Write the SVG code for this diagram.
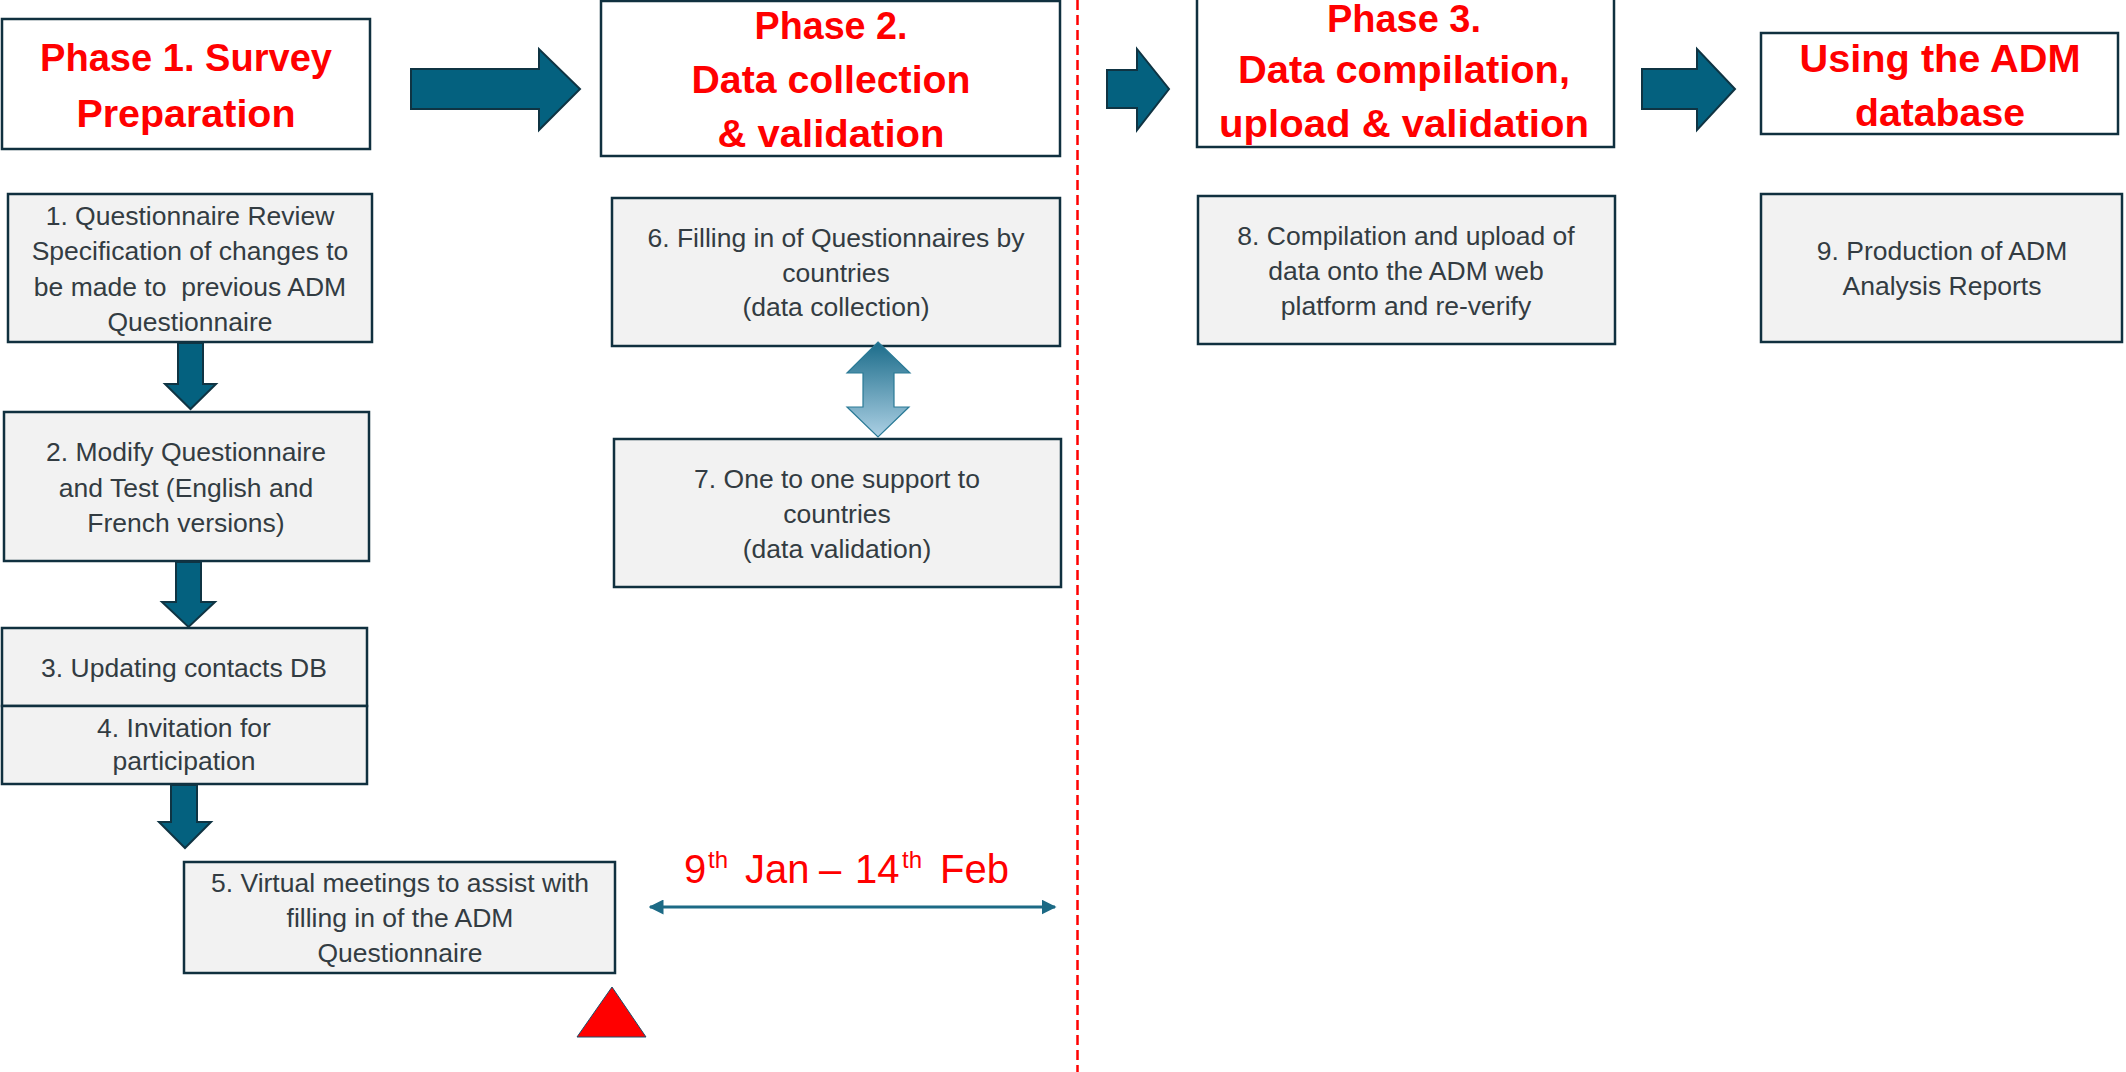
<svg xmlns="http://www.w3.org/2000/svg" width="2126" height="1072" viewBox="0 0 2126 1072">
<style>
.phase{fill:#ffffff;stroke:#10303f;stroke-width:2.5}
.step{fill:#f2f2f2;stroke:#10303f;stroke-width:2.5}
.title{font-family:"Liberation Sans",Arial,sans-serif;font-weight:bold;font-size:39px;fill:#ff0000;text-anchor:middle}
.body{font-family:"Liberation Sans",Arial,sans-serif;font-size:26.5px;fill:#333c42;text-anchor:middle}
.flow{fill:#04617f;stroke:#0f3443;stroke-width:2;stroke-linejoin:miter}
.date{font-family:"Liberation Sans",Arial,sans-serif;fill:#ff0000}
</style>
<defs>
<linearGradient id="grad" x1="0" y1="0" x2="0" y2="1">
<stop offset="0" stop-color="#1b6c8a"/>
<stop offset="1" stop-color="#acd0e4"/>
</linearGradient>
<marker id="ah" viewBox="0 0 10 10" refX="9" refY="5" markerWidth="5" markerHeight="5" orient="auto-start-reverse" markerUnits="strokeWidth">
<path d="M0,0 L10,5 L0,10 Z" fill="#1c6a85"/>
</marker>
</defs>
<rect width="2126" height="1072" fill="#ffffff"/>

<g id="phase1">
<rect class="phase" x="2" y="19" width="368" height="130"/>
<text class="title" x="186" y="71" textLength="292" lengthAdjust="spacingAndGlyphs">Phase 1. Survey</text>
<text class="title" x="186" y="127" textLength="219" lengthAdjust="spacingAndGlyphs">Preparation</text>
</g>
<g id="phase2">
<rect class="phase" x="601" y="1" width="459" height="155"/>
<text class="title" x="831" y="39" textLength="153" lengthAdjust="spacingAndGlyphs">Phase 2.</text>
<text class="title" x="831" y="93" textLength="279" lengthAdjust="spacingAndGlyphs">Data collection</text>
<text class="title" x="831" y="147" textLength="227" lengthAdjust="spacingAndGlyphs">&amp; validation</text>
</g>
<g id="phase3">
<rect class="phase" x="1197" y="-2" width="417" height="149"/>
<text class="title" x="1404" y="32" font-size="33" textLength="154" lengthAdjust="spacingAndGlyphs">Phase 3.</text>
<text class="title" x="1404" y="83" textLength="332" lengthAdjust="spacingAndGlyphs">Data compilation,</text>
<text class="title" x="1404" y="137" textLength="370" lengthAdjust="spacingAndGlyphs">upload &amp; validation</text>
</g>
<g id="using">
<rect class="phase" x="1761" y="33" width="357" height="101"/>
<text class="title" x="1940" y="72" textLength="281" lengthAdjust="spacingAndGlyphs">Using the ADM</text>
<text class="title" x="1940" y="126" textLength="170" lengthAdjust="spacingAndGlyphs">database</text>
</g>

<g id="step1">
<rect class="step" x="8" y="194" width="364" height="148"/>
<text class="body" x="190" y="225">1. Questionnaire Review</text>
<text class="body" x="190" y="260">Specification of changes to</text>
<text class="body" x="190" y="296" xml:space="preserve">be made to  previous ADM</text>
<text class="body" x="190" y="331">Questionnaire</text>
</g>
<g id="step2">
<rect class="step" x="4" y="412" width="365" height="149"/>
<text class="body" x="186" y="461">2. Modify Questionnaire</text>
<text class="body" x="186" y="497">and Test (English and</text>
<text class="body" x="186" y="532">French versions)</text>
</g>
<g id="step3">
<rect class="step" x="2" y="628" width="365" height="78"/>
<text class="body" x="184" y="677">3. Updating contacts DB</text>
</g>
<g id="step4">
<rect class="step" x="2" y="706" width="365" height="78"/>
<text class="body" x="184" y="737">4. Invitation for</text>
<text class="body" x="184" y="770">participation</text>
</g>
<g id="step5">
<rect class="step" x="184" y="862" width="431" height="111"/>
<text class="body" x="400" y="892">5. Virtual meetings to assist with</text>
<text class="body" x="400" y="927">filling in of the ADM</text>
<text class="body" x="400" y="962">Questionnaire</text>
</g>
<g id="step6">
<rect class="step" x="612" y="198" width="448" height="148"/>
<text class="body" x="836" y="247">6. Filling in of Questionnaires by</text>
<text class="body" x="836" y="282">countries</text>
<text class="body" x="836" y="316">(data collection)</text>
</g>
<g id="step7">
<rect class="step" x="614" y="439" width="447" height="148"/>
<text class="body" x="837" y="488">7. One to one support to</text>
<text class="body" x="837" y="523">countries</text>
<text class="body" x="837" y="558">(data validation)</text>
</g>
<g id="step8">
<rect class="step" x="1198" y="196" width="417" height="148"/>
<text class="body" x="1406" y="245">8. Compilation and upload of</text>
<text class="body" x="1406" y="280">data onto the ADM web</text>
<text class="body" x="1406" y="315">platform and re-verify</text>
</g>
<g id="step9">
<rect class="step" x="1761" y="194" width="361" height="148"/>
<text class="body" x="1942" y="260">9. Production of ADM</text>
<text class="body" x="1942" y="295">Analysis Reports</text>
</g>

<g id="timeline">
<text class="date" y="883"><tspan x="684" font-size="40">9</tspan><tspan x="708" y="868" font-size="24">th</tspan><tspan x="745" y="883" font-size="40">Jan</tspan><tspan x="819" font-size="40">–</tspan><tspan x="855" font-size="40">14</tspan><tspan x="902" y="868" font-size="24">th</tspan><tspan x="940" y="883" font-size="40">Feb</tspan></text>
<polygon points="612,987 646,1037 577,1037" fill="#ff0000" stroke="#1c4f6a" stroke-width="1"/>
</g>

<g id="connectors">
<path class="flow" d="M411,69 L539,69 L539,49 L580,89 L539,130 L539,109 L411,109 Z"/>
<path class="flow" d="M1107,70 L1137,70 L1137,49 L1169,89 L1137,130 L1137,108 L1107,108 Z"/>
<path class="flow" d="M1642,69 L1697,69 L1697,49 L1735,89 L1697,130 L1697,109 L1642,109 Z"/>
<path class="flow" d="M178,343 L203,343 L203,384 L216,384 L190.5,409 L165,384 L178,384 Z"/>
<path class="flow" d="M176,562 L201,562 L201,602 L215,602 L188.5,627 L162,602 L176,602 Z"/>
<path class="flow" d="M171,785 L197,785 L197,822 L211,822 L185,848 L159,822 L171,822 Z"/>
<path d="M878,342 L910,373 L894,373 L894,407 L909,407 L878,437 L847,407 L863,407 L863,373 L847,373 Z" fill="url(#grad)" stroke="#2a7a96" stroke-width="1.2"/>
<line x1="650" y1="907" x2="1055" y2="907" stroke="#1c6a85" stroke-width="3" marker-start="url(#ah)" marker-end="url(#ah)"/>
<line x1="1077.5" y1="0" x2="1077.5" y2="1072" stroke="#ff0000" stroke-width="2.5" stroke-dasharray="10 5"/>
</g>
</svg>
